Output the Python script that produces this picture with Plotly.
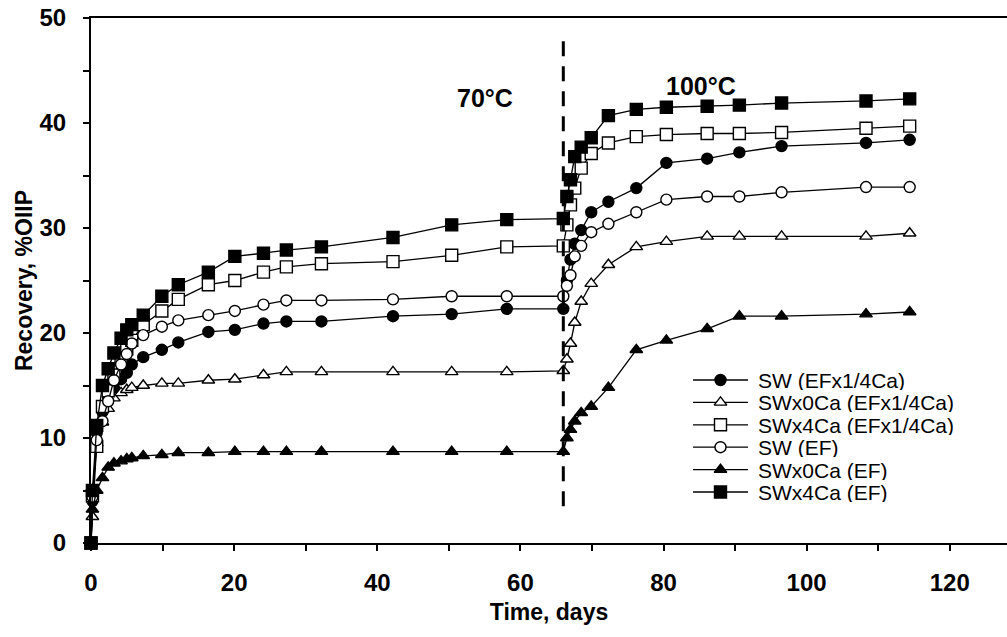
import plotly.graph_objects as go

# Sampling times (days) for the two temperature stages
t_70c = [0, 0.2, 0.8, 1.6, 2.4, 3.2, 4.2, 5.0, 5.7, 7.3, 9.9, 12.2, 16.4,
         20.1, 24.1, 27.3, 32.2, 42.2, 50.4, 58.1, 66.0]
t_100c = [66.5, 67.0, 67.6, 68.5, 69.9, 72.3, 76.2, 80.4, 86.1, 90.6,
          96.5, 108.3, 114.4]

# Temperature switch (days)
t_switch = 66.0

# Oil recovery, %OIIP
sw_efq_70 = [0, 4.0, 10.5, 12.5, 13.8, 14.8, 15.6, 16.2, 17.0, 17.7, 18.4, 19.1,
             20.1, 20.3, 20.9, 21.1, 21.1, 21.6, 21.8, 22.3, 22.3]
sw_efq_100 = [25.0, 27.0, 28.5, 29.8, 31.5, 32.5, 33.8, 36.2, 36.6, 37.2,
              37.8, 38.1, 38.4]

sw0_efq_70 = [0, 2.5, 9.5, 11.5, 12.8, 13.8, 14.3, 14.6, 14.8, 15.0, 15.2, 15.2,
              15.5, 15.6, 16.0, 16.3, 16.3, 16.3, 16.3, 16.3, 16.4]
sw0_efq_100 = [17.5, 19.0, 21.0, 23.0, 24.7, 26.5, 28.2, 28.7, 29.2, 29.2,
               29.2, 29.2, 29.5]

sw4_efq_70 = [0, 4.5, 9.2, 13.0, 14.5, 16.0, 17.5, 18.5, 19.3, 20.8, 22.1, 23.2,
              24.6, 25.0, 25.8, 26.3, 26.6, 26.8, 27.4, 28.2, 28.3]
sw4_efq_100 = [30.3, 32.2, 33.8, 35.7, 37.1, 38.1, 38.7, 38.9, 39.0, 39.0,
               39.1, 39.5, 39.7]

sw_ef_70 = [0, 4.4, 9.8, 11.6, 13.5, 15.5, 17.0, 18.0, 19.0, 19.8, 20.6, 21.2,
            21.7, 22.1, 22.7, 23.1, 23.1, 23.2, 23.5, 23.5, 23.5]
sw_ef_100 = [24.5, 25.5, 27.3, 28.3, 29.6, 30.4, 31.5, 32.7, 33.0, 33.0,
             33.4, 33.9, 33.9]

sw0_ef_70 = [0, 3.2, 5.0, 6.2, 7.2, 7.6, 7.8, 8.0, 8.1, 8.3, 8.4, 8.6,
             8.6, 8.7, 8.7, 8.7, 8.7, 8.7, 8.7, 8.7, 8.7]
sw0_ef_100 = [10.0, 10.8, 11.6, 12.4, 13.0, 14.8, 18.4, 19.3, 20.4, 21.6,
              21.6, 21.8, 22.0]

sw4_ef_70 = [0, 5.0, 11.2, 15.0, 16.6, 18.1, 19.5, 20.3, 20.8, 21.7, 23.5, 24.6,
             25.8, 27.3, 27.6, 27.9, 28.2, 29.1, 30.3, 30.8, 30.9]
sw4_ef_100 = [33.0, 34.6, 36.8, 37.7, 38.6, 40.7, 41.3, 41.5, 41.6, 41.7,
              41.9, 42.1, 42.3]

series = [
    ("SW (EFx1/4Ca)", sw_efq_70 + sw_efq_100, "circle", "black"),
    ("SWx0Ca (EFx1/4Ca)", sw0_efq_70 + sw0_efq_100, "triangle-up", "white"),
    ("SWx4Ca (EFx1/4Ca)", sw4_efq_70 + sw4_efq_100, "square", "white"),
    ("SW (EF)", sw_ef_70 + sw_ef_100, "circle", "white"),
    ("SWx0Ca (EF)", sw0_ef_70 + sw0_ef_100, "triangle-up", "black"),
    ("SWx4Ca (EF)", sw4_ef_70 + sw4_ef_100, "square", "black"),
]

FONT = "Liberation Sans, Arial, sans-serif"
PLOT_W, PLOT_H = 916, 525          # plotting area in px
times = t_70c + t_100c


def marker_style(symbol, fill):
    size = 12 if symbol == "square" else 11
    return dict(symbol=symbol, size=size, color=fill,
                line=dict(color="black", width=1.4))


fig = go.Figure()
for name, values, symbol, fill in series:
    fig.add_trace(go.Scatter(
        x=times, y=values, name=name, mode="lines+markers",
        line=dict(color="black", width=1.3),
        marker=marker_style(symbol, fill),
        cliponaxis=False, showlegend=False,
    ))

# Legend drawn on a pixel-scaled overlay axis (compact rows, long sample lines)
LEG_X, LEG_TOP, LEG_ROW, LEG_LINE = 602, 163, 22.4, 55
for i, (name, _, symbol, fill) in enumerate(series):
    ry = LEG_TOP - i * LEG_ROW
    fig.add_trace(go.Scatter(
        x=[LEG_X, LEG_X + LEG_LINE], y=[ry, ry], mode="lines",
        line=dict(color="black", width=1.3), xaxis="x2", yaxis="y2",
        showlegend=False, hoverinfo="skip"))
    fig.add_trace(go.Scatter(
        x=[LEG_X + LEG_LINE / 2], y=[ry], mode="markers",
        marker=marker_style(symbol, fill), xaxis="x2", yaxis="y2",
        showlegend=False, hoverinfo="skip"))
    fig.add_annotation(x=LEG_X + LEG_LINE + 9, y=ry, xref="x2", yref="y2",
                       text=name, showarrow=False, xanchor="left", yanchor="middle",
                       height=20, borderpad=0,
                       font=dict(family=FONT, size=21, color="black"))

# Dashed line marking the 70°C -> 100°C switch
fig.add_shape(type="line", xref="x", yref="y", x0=t_switch, x1=t_switch,
              y0=3.5, y1=48.2, line=dict(color="black", width=3, dash="15px,10px"))

fig.add_annotation(x=55, y=42.4, xref="x", yref="y", text="<b>70°C</b>",
                   showarrow=False, font=dict(family=FONT, size=25, color="black"))
fig.add_annotation(x=85.2, y=43.5, xref="x", yref="y", text="<b>100°C</b>",
                   showarrow=False, font=dict(family=FONT, size=25, color="black"))

fig.update_layout(
    width=1007, height=637,
    margin=dict(l=91, r=0, t=18, b=94),
    paper_bgcolor="white", plot_bgcolor="white",
    font=dict(family=FONT, color="black"),
    showlegend=False,
    xaxis=dict(
        range=[0, 128], showgrid=False, zeroline=False,
        showline=True, linecolor="black", linewidth=2, mirror=True,
        ticks="outside", tickcolor="black", ticklen=6, tickwidth=1.5,
        dtick=20, tick0=0, ticklabelstandoff=11,
        minor=dict(dtick=10, ticks="outside", ticklen=6, tickcolor="black", tickwidth=1.5),
        tickfont=dict(family=FONT, size=24, color="black", weight="bold"),
        title=dict(text="<b>Time, days</b>", standoff=9,
                   font=dict(family=FONT, size=23, color="black")),
    ),
    yaxis=dict(
        range=[0, 50], showgrid=False, zeroline=False,
        showline=True, linecolor="black", linewidth=2,
        ticks="outside", tickcolor="black", ticklen=6, tickwidth=1.5,
        dtick=10, tick0=0, ticklabelstandoff=12,
        minor=dict(dtick=5, ticks="outside", ticklen=6, tickcolor="black", tickwidth=1.5),
        tickfont=dict(family=FONT, size=24, color="black", weight="bold"),
        title=dict(text="<b>Recovery, %OIIP</b>", standoff=0,
                   font=dict(family=FONT, size=23, color="black")),
    ),
    xaxis2=dict(overlaying="x", range=[0, PLOT_W], visible=False, fixedrange=True),
    yaxis2=dict(overlaying="y", range=[0, PLOT_H], visible=False, fixedrange=True),
)

fig.write_html("out.html")
